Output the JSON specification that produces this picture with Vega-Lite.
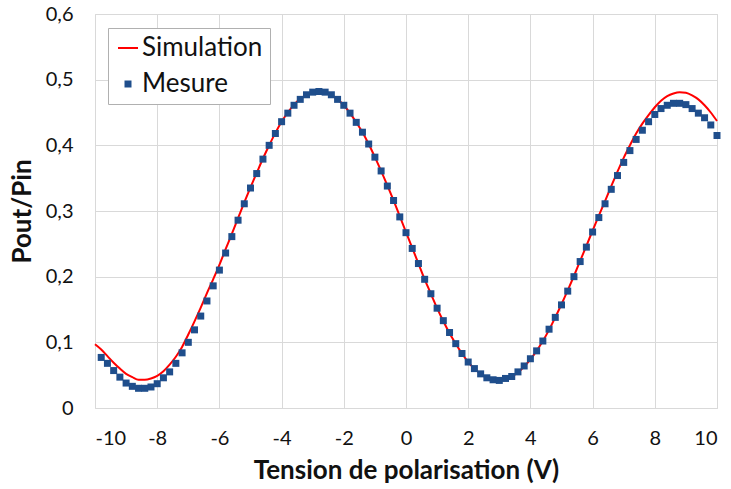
{
  "$schema": "https://vega.github.io/schema/vega-lite/v6.json",
  "width": 622,
  "height": 394,
  "autosize": {"type": "none"},
  "padding": {"left": 95, "top": 14, "right": 14, "bottom": 81},
  "background": "white",
  "config": {
    "font": "Lato",
    "view": {"stroke": "#d9d9d9", "strokeWidth": 1},
    "axis": {
      "domain": false,
      "ticks": false,
      "tickSize": 0,
      "gridColor": "#d9d9d9",
      "gridWidth": 1,
      "labelFont": "Lato",
      "labelFontSize": 20,
      "labelColor": "#111111",
      "titleFont": "Lato",
      "titleFontSize": 26,
      "titleFontWeight": "bold",
      "titleColor": "#111111"
    },
    "legend": {
      "labelFont": "Lato",
      "labelFontSize": 26,
      "labelColor": "#111111"
    }
  },
  "datasets": {
    "sim": [
      {"x": -10.0, "y": 0.097}, {"x": -9.8, "y": 0.089}, {"x": -9.6, "y": 0.079}, {"x": -9.4, "y": 0.069},
      {"x": -9.2, "y": 0.060}, {"x": -9.0, "y": 0.052}, {"x": -8.8, "y": 0.047}, {"x": -8.6, "y": 0.043},
      {"x": -8.4, "y": 0.043}, {"x": -8.2, "y": 0.045}, {"x": -8.0, "y": 0.049}, {"x": -7.8, "y": 0.056},
      {"x": -7.6, "y": 0.066}, {"x": -7.4, "y": 0.078}, {"x": -7.2, "y": 0.093}, {"x": -7.0, "y": 0.112},
      {"x": -6.8, "y": 0.132}, {"x": -6.6, "y": 0.153}, {"x": -6.4, "y": 0.175}, {"x": -6.2, "y": 0.196},
      {"x": -6.0, "y": 0.218}, {"x": -5.8, "y": 0.242}, {"x": -5.6, "y": 0.265}, {"x": -5.4, "y": 0.289},
      {"x": -5.2, "y": 0.313}, {"x": -5.0, "y": 0.336}, {"x": -4.8, "y": 0.358}, {"x": -4.6, "y": 0.380},
      {"x": -4.4, "y": 0.400}, {"x": -4.2, "y": 0.419}, {"x": -4.0, "y": 0.436}, {"x": -3.8, "y": 0.450},
      {"x": -3.6, "y": 0.462}, {"x": -3.4, "y": 0.471}, {"x": -3.2, "y": 0.477}, {"x": -3.0, "y": 0.481},
      {"x": -2.8, "y": 0.482}, {"x": -2.6, "y": 0.481}, {"x": -2.4, "y": 0.477}, {"x": -2.2, "y": 0.470},
      {"x": -2.0, "y": 0.461}, {"x": -1.8, "y": 0.449}, {"x": -1.6, "y": 0.435}, {"x": -1.4, "y": 0.420},
      {"x": -1.2, "y": 0.402}, {"x": -1.0, "y": 0.382}, {"x": -0.8, "y": 0.361}, {"x": -0.6, "y": 0.339},
      {"x": -0.4, "y": 0.316}, {"x": -0.2, "y": 0.292}, {"x": 0.0, "y": 0.268}, {"x": 0.2, "y": 0.244},
      {"x": 0.4, "y": 0.220}, {"x": 0.6, "y": 0.196}, {"x": 0.8, "y": 0.174}, {"x": 1.0, "y": 0.152},
      {"x": 1.2, "y": 0.132}, {"x": 1.4, "y": 0.114}, {"x": 1.6, "y": 0.098}, {"x": 1.8, "y": 0.083},
      {"x": 2.0, "y": 0.070}, {"x": 2.2, "y": 0.060}, {"x": 2.4, "y": 0.052}, {"x": 2.6, "y": 0.046},
      {"x": 2.8, "y": 0.043}, {"x": 3.0, "y": 0.042}, {"x": 3.2, "y": 0.044}, {"x": 3.4, "y": 0.048},
      {"x": 3.6, "y": 0.054}, {"x": 3.8, "y": 0.063}, {"x": 4.0, "y": 0.074}, {"x": 4.2, "y": 0.087},
      {"x": 4.4, "y": 0.102}, {"x": 4.6, "y": 0.119}, {"x": 4.8, "y": 0.138}, {"x": 5.0, "y": 0.158},
      {"x": 5.2, "y": 0.179}, {"x": 5.4, "y": 0.201}, {"x": 5.6, "y": 0.224}, {"x": 5.8, "y": 0.247},
      {"x": 6.0, "y": 0.270}, {"x": 6.2, "y": 0.293}, {"x": 6.4, "y": 0.315}, {"x": 6.6, "y": 0.338},
      {"x": 6.8, "y": 0.360}, {"x": 7.0, "y": 0.381}, {"x": 7.2, "y": 0.400}, {"x": 7.4, "y": 0.418},
      {"x": 7.6, "y": 0.433}, {"x": 7.8, "y": 0.446}, {"x": 8.0, "y": 0.458}, {"x": 8.2, "y": 0.468},
      {"x": 8.4, "y": 0.475}, {"x": 8.6, "y": 0.479}, {"x": 8.8, "y": 0.481}, {"x": 9.0, "y": 0.480},
      {"x": 9.2, "y": 0.476}, {"x": 9.4, "y": 0.470}, {"x": 9.6, "y": 0.461}, {"x": 9.8, "y": 0.450},
      {"x": 10.0, "y": 0.437}
    ],
    "mes": [
      {"serie": "Mesure", "x": -9.8, "y": 0.077}, {"serie": "Mesure", "x": -9.6, "y": 0.068},
      {"serie": "Mesure", "x": -9.4, "y": 0.057}, {"serie": "Mesure", "x": -9.2, "y": 0.047},
      {"serie": "Mesure", "x": -9.0, "y": 0.038}, {"serie": "Mesure", "x": -8.8, "y": 0.033},
      {"serie": "Mesure", "x": -8.6, "y": 0.030}, {"serie": "Mesure", "x": -8.4, "y": 0.030},
      {"serie": "Mesure", "x": -8.2, "y": 0.032}, {"serie": "Mesure", "x": -8.0, "y": 0.037},
      {"serie": "Mesure", "x": -7.8, "y": 0.046}, {"serie": "Mesure", "x": -7.6, "y": 0.055},
      {"serie": "Mesure", "x": -7.4, "y": 0.068}, {"serie": "Mesure", "x": -7.2, "y": 0.084},
      {"serie": "Mesure", "x": -7.0, "y": 0.100}, {"serie": "Mesure", "x": -6.8, "y": 0.119},
      {"serie": "Mesure", "x": -6.6, "y": 0.140}, {"serie": "Mesure", "x": -6.4, "y": 0.163},
      {"serie": "Mesure", "x": -6.2, "y": 0.186}, {"serie": "Mesure", "x": -6.0, "y": 0.210},
      {"serie": "Mesure", "x": -5.8, "y": 0.236}, {"serie": "Mesure", "x": -5.6, "y": 0.261},
      {"serie": "Mesure", "x": -5.4, "y": 0.286}, {"serie": "Mesure", "x": -5.2, "y": 0.311},
      {"serie": "Mesure", "x": -5.0, "y": 0.335}, {"serie": "Mesure", "x": -4.8, "y": 0.357},
      {"serie": "Mesure", "x": -4.6, "y": 0.379}, {"serie": "Mesure", "x": -4.4, "y": 0.400},
      {"serie": "Mesure", "x": -4.2, "y": 0.418}, {"serie": "Mesure", "x": -4.0, "y": 0.436},
      {"serie": "Mesure", "x": -3.8, "y": 0.449}, {"serie": "Mesure", "x": -3.6, "y": 0.461},
      {"serie": "Mesure", "x": -3.4, "y": 0.470}, {"serie": "Mesure", "x": -3.2, "y": 0.477},
      {"serie": "Mesure", "x": -3.0, "y": 0.481}, {"serie": "Mesure", "x": -2.8, "y": 0.482},
      {"serie": "Mesure", "x": -2.6, "y": 0.481}, {"serie": "Mesure", "x": -2.4, "y": 0.477},
      {"serie": "Mesure", "x": -2.2, "y": 0.470}, {"serie": "Mesure", "x": -2.0, "y": 0.461},
      {"serie": "Mesure", "x": -1.8, "y": 0.449}, {"serie": "Mesure", "x": -1.6, "y": 0.435},
      {"serie": "Mesure", "x": -1.4, "y": 0.420}, {"serie": "Mesure", "x": -1.2, "y": 0.402},
      {"serie": "Mesure", "x": -1.0, "y": 0.382}, {"serie": "Mesure", "x": -0.8, "y": 0.361},
      {"serie": "Mesure", "x": -0.6, "y": 0.338}, {"serie": "Mesure", "x": -0.4, "y": 0.316},
      {"serie": "Mesure", "x": -0.2, "y": 0.291}, {"serie": "Mesure", "x": 0.0, "y": 0.267},
      {"serie": "Mesure", "x": 0.2, "y": 0.243}, {"serie": "Mesure", "x": 0.4, "y": 0.220},
      {"serie": "Mesure", "x": 0.6, "y": 0.196}, {"serie": "Mesure", "x": 0.8, "y": 0.174},
      {"serie": "Mesure", "x": 1.0, "y": 0.152}, {"serie": "Mesure", "x": 1.2, "y": 0.133},
      {"serie": "Mesure", "x": 1.4, "y": 0.115}, {"serie": "Mesure", "x": 1.6, "y": 0.098},
      {"serie": "Mesure", "x": 1.8, "y": 0.083}, {"serie": "Mesure", "x": 2.0, "y": 0.070},
      {"serie": "Mesure", "x": 2.2, "y": 0.060}, {"serie": "Mesure", "x": 2.4, "y": 0.052},
      {"serie": "Mesure", "x": 2.6, "y": 0.046}, {"serie": "Mesure", "x": 2.8, "y": 0.043},
      {"serie": "Mesure", "x": 3.0, "y": 0.042}, {"serie": "Mesure", "x": 3.2, "y": 0.045},
      {"serie": "Mesure", "x": 3.4, "y": 0.048}, {"serie": "Mesure", "x": 3.6, "y": 0.055},
      {"serie": "Mesure", "x": 3.8, "y": 0.064}, {"serie": "Mesure", "x": 4.0, "y": 0.075},
      {"serie": "Mesure", "x": 4.2, "y": 0.087}, {"serie": "Mesure", "x": 4.4, "y": 0.102},
      {"serie": "Mesure", "x": 4.6, "y": 0.120}, {"serie": "Mesure", "x": 4.8, "y": 0.138},
      {"serie": "Mesure", "x": 5.0, "y": 0.157}, {"serie": "Mesure", "x": 5.2, "y": 0.178},
      {"serie": "Mesure", "x": 5.4, "y": 0.200}, {"serie": "Mesure", "x": 5.6, "y": 0.223},
      {"serie": "Mesure", "x": 5.8, "y": 0.245}, {"serie": "Mesure", "x": 6.0, "y": 0.268},
      {"serie": "Mesure", "x": 6.2, "y": 0.290}, {"serie": "Mesure", "x": 6.4, "y": 0.311},
      {"serie": "Mesure", "x": 6.6, "y": 0.333}, {"serie": "Mesure", "x": 6.8, "y": 0.354},
      {"serie": "Mesure", "x": 7.0, "y": 0.374}, {"serie": "Mesure", "x": 7.2, "y": 0.392},
      {"serie": "Mesure", "x": 7.4, "y": 0.409}, {"serie": "Mesure", "x": 7.6, "y": 0.423},
      {"serie": "Mesure", "x": 7.8, "y": 0.436}, {"serie": "Mesure", "x": 8.0, "y": 0.447},
      {"serie": "Mesure", "x": 8.2, "y": 0.456}, {"serie": "Mesure", "x": 8.4, "y": 0.461},
      {"serie": "Mesure", "x": 8.6, "y": 0.464}, {"serie": "Mesure", "x": 8.8, "y": 0.464},
      {"serie": "Mesure", "x": 9.0, "y": 0.462}, {"serie": "Mesure", "x": 9.2, "y": 0.456},
      {"serie": "Mesure", "x": 9.4, "y": 0.449}, {"serie": "Mesure", "x": 9.6, "y": 0.442},
      {"serie": "Mesure", "x": 9.8, "y": 0.431}, {"serie": "Mesure", "x": 10.0, "y": 0.415}
    ]
  },
  "encoding": {
    "x": {
      "field": "x",
      "type": "quantitative",
      "scale": {"domain": [-10, 10], "nice": false, "zero": false},
      "axis": {
        "title": "Tension de polarisation (V)",
        "values": [-10, -8, -6, -4, -2, 0, 2, 4, 6, 8, 10],
        "labelExpr": "'' + datum.value",
        "labelPadding": 20,
        "titlePadding": 9
      }
    },
    "y": {
      "field": "y",
      "type": "quantitative",
      "scale": {"domain": [0, 0.6], "nice": false},
      "axis": {
        "title": "Pout/Pin",
        "values": [0, 0.1, 0.2, 0.3, 0.4, 0.5, 0.6],
        "labelExpr": "datum.value == 0 ? '0' : replace(format(datum.value, '.1f'), '.', ',')",
        "labelPadding": 22,
        "titlePadding": 10
      }
    }
  },
  "layer": [
    {
      "data": {"name": "sim"},
      "mark": {"type": "line", "color": "#FF0000", "strokeWidth": 2, "interpolate": "monotone"}
    },
    {
      "data": {"name": "mes"},
      "mark": {"type": "point", "filled": true, "opacity": 1, "size": 400, "strokeWidth": 0},
      "encoding": {
        "color": {
          "field": "serie",
          "type": "nominal",
          "scale": {"domain": ["Simulation", "Mesure"], "range": ["#FF0000", "#1F4E8C"]},
          "legend": {
            "title": null,
            "orient": "none",
            "legendX": 13,
            "legendY": 14,
            "fillColor": "white",
            "strokeColor": "#b0b0b0",
            "padding": 7,
            "rowPadding": 10,
            "symbolSize": 400,
            "symbolStrokeWidth": 0,
            "labelOffset": 1,
            "labelFontSize": 26
          }
        },
        "shape": {
          "field": "serie",
          "type": "nominal",
          "scale": {"domain": ["Simulation", "Mesure"], "range": ["M-1,-0.1H1V0.1H-1Z", "M-0.35,-0.35H0.35V0.35H-0.35Z"]},
          "legend": {
            "title": null,
            "orient": "none",
            "legendX": 13,
            "legendY": 14,
            "fillColor": "white",
            "strokeColor": "#b0b0b0",
            "padding": 7,
            "rowPadding": 10,
            "symbolSize": 400,
            "symbolStrokeWidth": 0,
            "labelOffset": 1,
            "labelFontSize": 26
          }
        }
      }
    }
  ]
}
